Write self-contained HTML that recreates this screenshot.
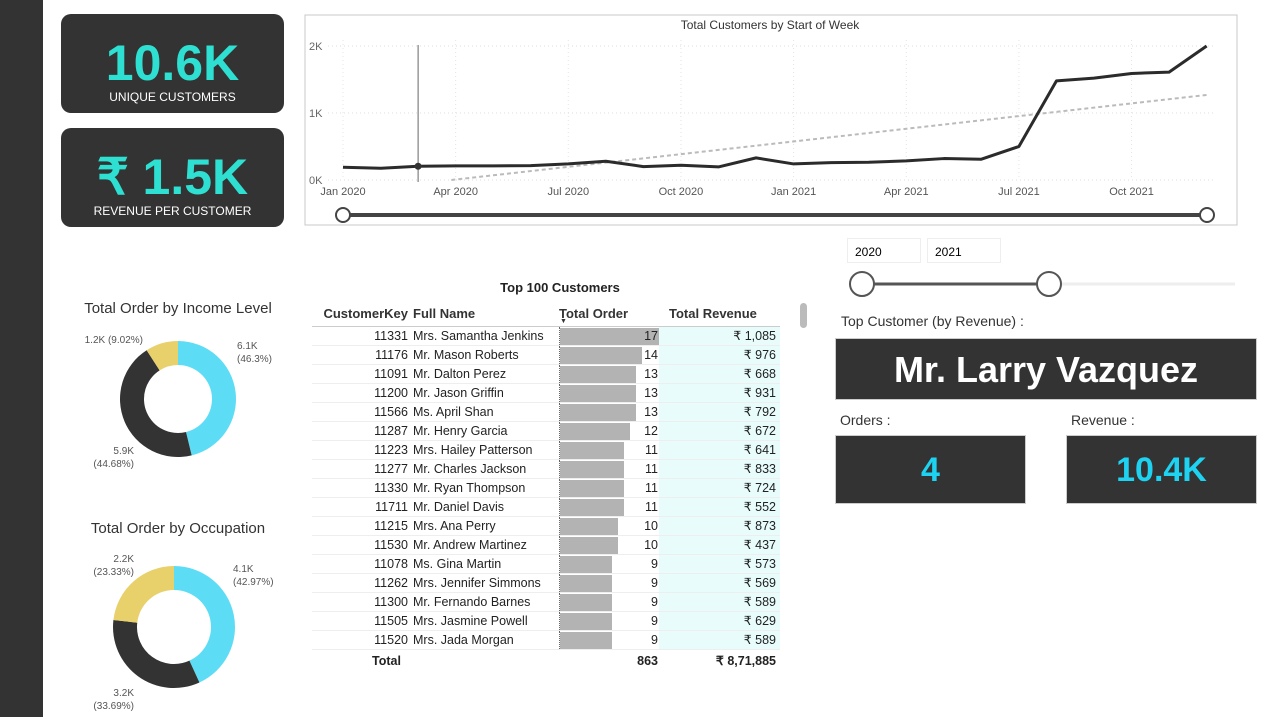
<!DOCTYPE html>
<html><head><meta charset="utf-8">
<style>
body{margin:0;width:1277px;height:717px;background:#fff;font-family:"Liberation Sans",sans-serif;position:relative;overflow:hidden}
.abs{position:absolute}
.card{background:#333;border-radius:10px;color:#fff;text-align:center}
.big{color:#2ee0d2;font-weight:bold;font-size:50px;position:absolute;left:0;right:0}
.lbl{font-size:12px;position:absolute;left:0;right:0}
.box{background:#333;border:1px solid #ccc;box-sizing:border-box}
table{border-collapse:collapse;font-size:12.5px;color:#222;table-layout:fixed;width:468px}
td{height:18px;padding:0;border-bottom:1px solid #eee;overflow:hidden;white-space:nowrap;line-height:18px}
</style></head><body>
<div class="abs" style="left:0;top:0;width:43px;height:717px;background:#333"></div>
<div class="abs card" style="left:61px;top:14px;width:223px;height:99px"><div class="big" style="top:20px">10.6K</div><div class="lbl" style="top:76px">UNIQUE CUSTOMERS</div></div>
<div class="abs card" style="left:61px;top:128px;width:223px;height:99px"><div class="big" style="top:20px">₹ 1.5K</div><div class="lbl" style="top:76px">REVENUE PER CUSTOMER</div></div>

<svg class="abs" style="left:0;top:0" width="1277" height="717" id="svg">
<rect x="305" y="15" width="932" height="210" fill="#fff" stroke="#c8c8c8"/>
<text x="770" y="29" font-size="12" text-anchor="middle" fill="#333">Total Customers by Start of Week</text>
<g id="lc"></g>
<g id="donuts"></g>
</svg>

<div class="abs" style="left:460px;top:280px;width:200px;text-align:center;font-weight:bold;font-size:13px;color:#222">Top 100 Customers</div>
<div class="abs" style="left:800px;top:303px;width:7px;height:25px;border-radius:4px;background:#bbb"></div>
<div class="abs" style="left:312px;top:301px">
<table id="tbl">
<colgroup><col style="width:96px"><col style="width:151px"><col style="width:100px"><col style="width:121px"></colgroup>
<thead><tr style="font-weight:bold;font-size:13px;color:#333">
<td style="text-align:right;height:25px;border-bottom:1px solid #ccc">CustomerKey</td>
<td style="padding-left:5px;border-bottom:1px solid #ccc">Full Name</td>
<td style="border-bottom:1px solid #ccc;position:relative;overflow:visible">Total Order<span style="position:absolute;left:1px;top:12px;font-size:7px">▼</span></td>
<td style="padding-left:10px;border-bottom:1px solid #ccc">Total Revenue</td></tr></thead>
<tbody id="tb"></tbody></table></div>

<div class="abs" style="left:847px;top:238px;width:74px;height:25px;border:1px solid #eee;box-sizing:border-box;font-size:12px;padding:6px 7px">2020</div>
<div class="abs" style="left:927px;top:238px;width:74px;height:25px;border:1px solid #eee;box-sizing:border-box;font-size:12px;padding:6px 7px">2021</div>
<div class="abs" style="left:841px;top:313px;font-size:14px;color:#333">Top Customer (by Revenue) :</div>
<div class="abs box" style="left:835px;top:338px;width:422px;height:62px;color:#fff;font-weight:bold;font-size:36px;text-align:center;line-height:62px">Mr. Larry Vazquez</div>
<div class="abs" style="left:840px;top:412px;font-size:14px;color:#333">Orders :</div>
<div class="abs box" style="left:835px;top:435px;width:191px;height:69px;color:#1ed3f2;font-weight:bold;font-size:34px;text-align:center;line-height:69px">4</div>
<div class="abs" style="left:1071px;top:412px;font-size:14px;color:#333">Revenue :</div>
<div class="abs box" style="left:1066px;top:435px;width:191px;height:69px;color:#1ed3f2;font-weight:bold;font-size:34px;text-align:center;line-height:69px">10.4K</div>

<script>
const months=[0,1,2,3,4,5,6,7,8,9,10,11,12,13,14,15,16,17,18,19,20,21,22,23];
const customers=[190,175,205,210,210,215,240,280,200,220,195,330,240,260,265,285,320,310,500,1480,1520,1590,1610,2000];
const yTicks=[0,1000,2000];
const yTickLabels=["0K","1K","2K"];
const xTickMonths=[0,3,6,9,12,15,18,21];
const xTickLabels=["Jan 2020","Apr 2020","Jul 2020","Oct 2020","Jan 2021","Apr 2021","Jul 2021","Oct 2021"];
const incomeLabels=["High","Medium","Low"];
const incomeVals=[6.1,5.9,1.2];
const incomeText=["6.1K|(46.3%)","5.9K|(44.68%)","1.2K (9.02%)"];
const occLabels=["Professional","Skilled","Other"];
const occVals=[4.1,3.2,2.2];
const occText=["4.1K|(42.97%)","3.2K|(33.69%)","2.2K|(23.33%)"];
const keys=[11331,11176,11091,11200,11566,11287,11223,11277,11330,11711,11215,11530,11078,11262,11300,11505,11520];
const names=["Mrs. Samantha Jenkins","Mr. Mason Roberts","Mr. Dalton Perez","Mr. Jason Griffin","Ms. April Shan","Mr. Henry Garcia","Mrs. Hailey Patterson","Mr. Charles Jackson","Mr. Ryan Thompson","Mr. Daniel Davis","Mrs. Ana Perry","Mr. Andrew Martinez","Ms. Gina Martin","Mrs. Jennifer Simmons","Mr. Fernando Barnes","Mrs. Jasmine Powell","Mrs. Jada Morgan"];
const orders=[17,14,13,13,13,12,11,11,11,11,10,10,9,9,9,9,9];
const revenue=["1,085","976","668","931","792","672","641","833","724","552","873","437","573","569","589","629","589"];

const NS="http://www.w3.org/2000/svg";
function mk(p,t,a){const e=document.createElementNS(NS,t);for(const k in a)e.setAttribute(k,a[k]);p.appendChild(e);return e;}
const X=m=>343+m*37.55, Y=v=>180-v*0.067;
const lc=document.getElementById('lc');
yTicks.forEach((v,i)=>{
 const l=mk(lc,'line',{x1:328,x2:1215,y1:Y(v),y2:Y(v),stroke:'#ddd','stroke-dasharray':'1 3'});
 
 const t=mk(lc,'text',{x:309,y:Y(v)+4,'font-size':11,fill:'#666'});t.textContent=yTickLabels[i];
 
});
xTickMonths.forEach((m,i)=>{
 const l=mk(lc,'line',{x1:X(m),x2:X(m),y1:40,y2:180,stroke:'#e4e4e4','stroke-dasharray':'1 3'});
 
 const t=mk(lc,'text',{x:X(m),y:195,'font-size':11,fill:'#555','text-anchor':'middle'});t.textContent=xTickLabels[i];
 
});
let n=months.length,sx=0,sy=0,sxy=0,sxx=0;months.forEach((m,i)=>{sx+=m;sy+=customers[i];sxy+=m*customers[i];sxx+=m*m;});
const b=(n*sxy-sx*sy)/(n*sxx-sx*sx),a=(sy-b*sx)/n;
const m0=Math.max(0,-a/b);
const tr=mk(lc,'line',{x1:X(m0),y1:Y(a+b*m0),x2:X(23),y2:Y(a+b*23),stroke:'#bbb','stroke-width':2,'stroke-dasharray':'4 3'});

const vl=mk(lc,'line',{x1:X(2),x2:X(2),y1:45,y2:182,stroke:'#666','stroke-width':1});

const pl=mk(lc,'polyline',{points:months.map((m,i)=>X(m)+','+Y(customers[i])).join(' '),fill:'none',stroke:'#2b2b2b','stroke-width':3,'stroke-linejoin':'round'});

const dot=mk(lc,'circle',{cx:X(2),cy:Y(customers[2]),r:3.5,fill:'#333'});

const sl=mk(lc,'line',{x1:343,x2:1207,y1:215,y2:215,stroke:'#444','stroke-width':4});

[343,1207].forEach(x=>{const c=mk(lc,'circle',{cx:x,cy:215,r:7,fill:'#fff',stroke:'#444','stroke-width':2});
 });
const ys=document.getElementById('svg');
const yl1=mk(ys,'line',{x1:862,x2:1235,y1:284,y2:284,stroke:'#eee','stroke-width':3});

const yl2=mk(ys,'line',{x1:862,x2:1049,y1:284,y2:284,stroke:'#555','stroke-width':3});

[862,1049].forEach(x=>{const c=mk(ys,'circle',{cx:x,cy:284,r:12,fill:'#fff',stroke:'#555','stroke-width':2});
 });

const colors=['#5ddcf5','#333333','#e8d06a'];
const dg=document.getElementById('donuts');
function donut(title,ty,cx,cy,R,r,vals,labs,texts,lpos){
 const t=mk(dg,'text',{x:178,y:ty,'font-size':15,fill:'#333','text-anchor':'middle'});t.textContent=title;
 
 const tot=vals.reduce((s,v)=>s+v,0);let ang=0;
 vals.forEach((v,i)=>{
  const a0=ang,a1=ang+v/tot*2*Math.PI;ang=a1;
  const P=(rad,a)=>[cx+rad*Math.sin(a),cy-rad*Math.cos(a)];
  const lg=(a1-a0)>Math.PI?1:0;
  const p1=P(R,a0),p2=P(R,a1),p3=P(r,a1),p4=P(r,a0);
  const p=mk(dg,'path',{d:`M${p1}A${R},${R} 0 ${lg} 1 ${p2}L${p3}A${r},${r} 0 ${lg} 0 ${p4}Z`,fill:colors[i]});
  
  const [lx,ly,anc]=lpos[i];
  texts[i].split('|').forEach((s,k)=>{const tt=mk(dg,'text',{x:lx,y:ly+k*13,'font-size':10,fill:'#555','text-anchor':anc});tt.textContent=s;
   });
 });
}
donut('Total Order by Income Level',313,178,399,58,34,incomeVals,incomeLabels,incomeText,[[237,349,'start'],[134,454,'end'],[143,343,'end']]);
donut('Total Order by Occupation',533,174,627,61,37,occVals,occLabels,occText,[[233,572,'start'],[134,696,'end'],[134,562,'end']]);

const tb=document.getElementById('tb');
keys.forEach((k,i)=>{
 const tr=document.createElement('tr');
 
 
 const w=orders[i]/17*100;
 tr.innerHTML=`<td style="text-align:right">${k}</td><td style="padding-left:5px">${names[i]}</td><td style="position:relative;border-left:1px dotted #666"><div style="position:absolute;left:0;top:1px;height:17px;width:${w}px;background:#b3b3b3"></div><span style="position:absolute;right:1px;top:0">${orders[i]}</span></td><td style="text-align:right;background:#e8fcfc;padding-right:4px">₹ ${revenue[i]}</td>`;
 tb.appendChild(tr);
});
const tot=document.createElement('tr');


tot.innerHTML=`<td style="font-weight:bold;padding-left:60px;border-top:1px solid #333;height:22px;border-bottom:none">Total</td><td style="border-top:1px solid #333;border-bottom:none"></td><td style="text-align:right;font-weight:bold;border-top:1px solid #333;border-bottom:none;padding-right:1px">863</td><td style="text-align:right;font-weight:bold;border-top:1px solid #333;border-bottom:none;padding-right:4px">₹ 8,71,885</td>`;
tb.appendChild(tot);
</script>
</body></html>
